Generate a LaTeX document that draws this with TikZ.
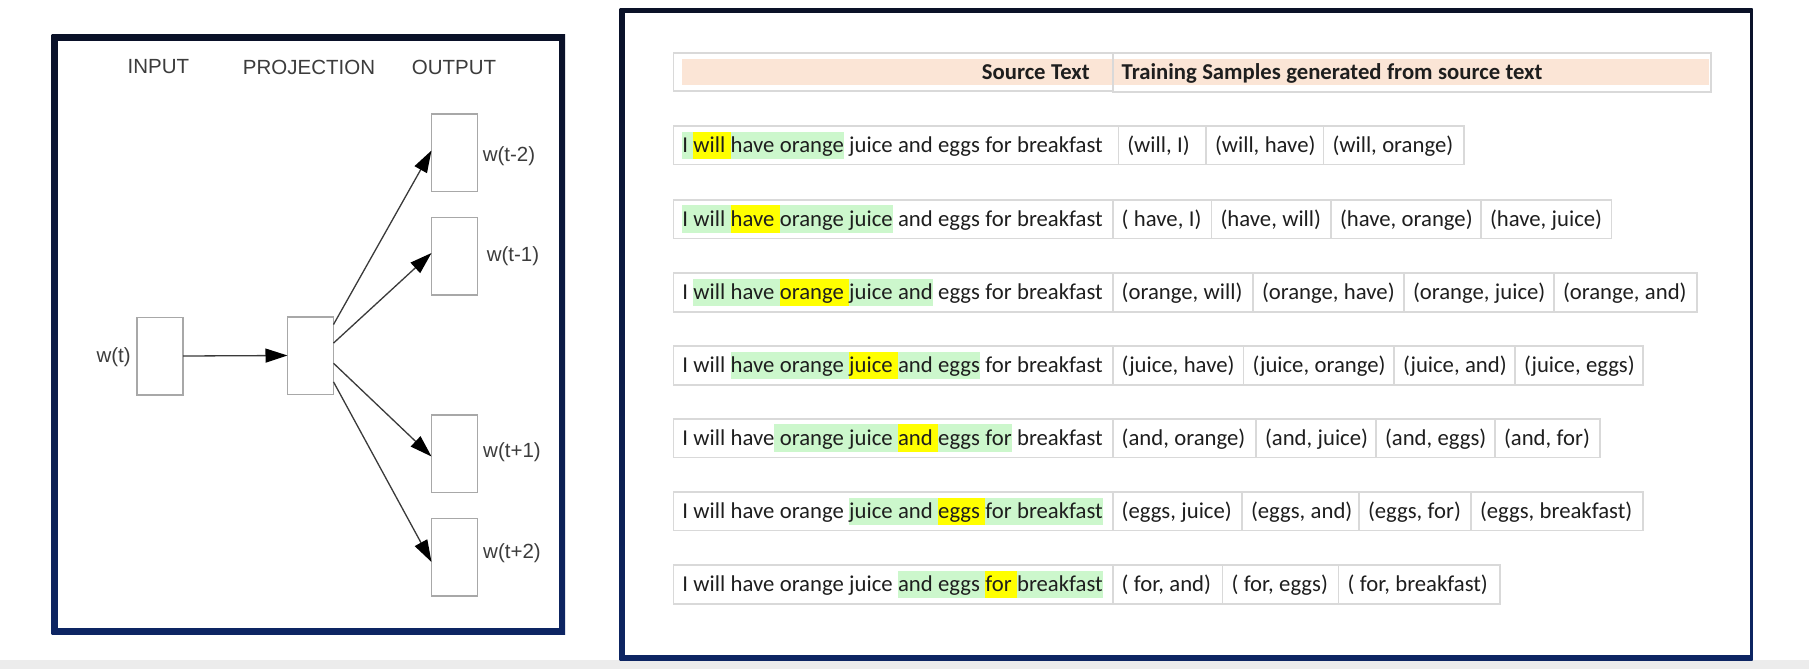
\documentclass[tikz,border=0pt]{standalone}
\usepackage{fontspec}
\setmainfont{Carlito}
\newfontfamily\arialfont{Liberation Sans}
\usetikzlibrary{arrows.meta,calc}

\definecolor{navytop}{HTML}{0A1128}
\definecolor{navybot}{HTML}{0D2563}
\definecolor{stripgray}{HTML}{ECECEC}
\definecolor{boxgray}{HTML}{A8A8A8}
\definecolor{linegray}{HTML}{3A3A3A}
\definecolor{labelgray}{HTML}{3C3C3C}
\definecolor{cellgray}{HTML}{D9D9D9}
\definecolor{peach}{HTML}{FBE5D6}
\definecolor{hlgreen}{HTML}{CCF7CC}
\definecolor{hlyellow}{HTML}{FFFF00}
\definecolor{inktext}{HTML}{1E1E1E}

% highlighted word runs
\newcommand\hlstrut{\rule[-6.8pt]{0pt}{27.5pt}}
\newcommand\hlg[1]{{\setlength{\fboxsep}{0pt}\colorbox{hlgreen}{\hlstrut#1}}}
\newcommand\hly[1]{{\setlength{\fboxsep}{0pt}\colorbox{hlyellow}{\hlstrut#1}}}

% one table cell: name, left x, right x, top y, content
\newcommand\rowcell[5]{%
  \pgfmathsetmacro\cellw{#3-#2-18}%
  \node[cell, text width=\cellw pt] (#1) at (#2,#4) {\mbox{\spaceskip=5.4pt\relax#5}};}
% source sentence cell
\newcommand\srccell[4]{\rowcell{#1}{673.3}{#2}{#3}{#4}}

\begin{document}
\begin{tikzpicture}[x=1pt,y=-1pt,
  nnbox/.style={draw=boxgray, line width=1.5pt, inner sep=0pt, outer sep=0pt,
                minimum width=46pt, minimum height=77.5pt},
  nnlabel/.style={font=\arialfont\fontsize{20.5pt}{24pt}\selectfont, text=labelgray, inner sep=0pt},
  link/.style={draw=linegray, line width=1.3pt, -{Triangle[length=22pt,width=14pt,color=black]}},
  cell/.style={draw=cellgray, line width=1.6pt, anchor=north west, outer sep=0pt,
               inner xsep=9pt, inner ysep=0pt, minimum height=38.5pt,
               text height=20.7pt, text depth=6.8pt, align=left, text=inktext,
               font=\fontsize{22.7pt}{27pt}\selectfont},
  hcell/.style={cell, minimum height=37.7pt, font=\bfseries\fontsize{22.7pt}{27pt}\selectfont}
]
\useasboundingbox (0,0) rectangle (1809,669);
\fill[white] (0,0) rectangle (1809,669);
\fill[stripgray] (0,660) rectangle (1809,669);

% ---------- skip-gram network ----------
\shade[top color=navytop, bottom color=navybot] (51.5,34.5) rectangle (565,634);
\fill[white] (58,41) rectangle (558.5,627.5);

\node[nnlabel] (hin)   at (158.4,67) {INPUT};
\node[nnlabel] (hproj) at (309,67)   {PROJECTION};
\node[nnlabel] (hout)  at (454,67)   {OUTPUT};

\node[nnbox] (in)   at (160,356)   {};
\node[nnbox] (proj) at (310.5,355.5) {};
\node[nnbox] (o1)   at (454.5,152.5) {};
\node[nnbox] (o2)   at (454.5,256)   {};
\node[nnbox] (o3)   at (454.5,453.5) {};
\node[nnbox] (o4)   at (454.5,557)   {};

\node[nnlabel] (lin) at (113.6,357) {w(t)};
\node[nnlabel] (l1)  at (509,156)   {w(t-2)};
\node[nnlabel] (l2)  at (513,256)   {w(t-1)};
\node[nnlabel] (l3)  at (512,452)   {w(t+1)};
\node[nnlabel] (l4)  at (512,553.5) {w(t+2)};

\draw[link] (in.east) -- (proj.west);
\draw[link] ($(proj.north east)!0.10!(proj.south east)$) -- ($(o1.west)+(0,-2)$);
\draw[link] ($(proj.north east)!0.34!(proj.south east)$) -- ($(o2.west)+(0,-3)$);
\draw[link] ($(proj.north east)!0.60!(proj.south east)$) -- ($(o3.west)+(0,3)$);
\draw[link] ($(proj.north east)!0.84!(proj.south east)$) -- ($(o4.west)+(0,5)$);

% ---------- training samples table ----------
\shade[top color=navytop, bottom color=navybot] (619.5,8.5) rectangle (1752.5,660);
\fill[white] (625,13.5) rectangle (1749.5,655);

% header
\fill[peach] (681.7,59) rectangle (1709.3,85);
\pgfmathsetmacro\cellw{1112.7-673.3-18}
\node[hcell, text width=\cellw pt, align=right] (hsrc) at (673.3,53.3)
  {\mbox{\spaceskip=5.4pt\relax Source Text\hspace{14pt}}};
\rowcell{htrain}{1112.7}{1711}{53.3}{\bfseries Training Samples generated from source text}

% row 1
\srccell{s1}{1118.3}{126}{\hlg{I \hly{will }have orange} juice and eggs for breakfast}
\rowcell{p11}{1118.3}{1206}{126}{(will, I)}
\rowcell{p12}{1206}{1323.5}{126}{(will, have)}
\rowcell{p13}{1323.5}{1464}{126}{(will, orange)}

% row 2
\srccell{s2}{1112.7}{199.8}{\hlg{I will \hly{have }orange juice} and eggs for breakfast}
\rowcell{p21}{1112.7}{1211.6}{199.8}{( have, I)}
\rowcell{p22}{1211.6}{1331}{199.8}{(have, will)}
\rowcell{p23}{1331}{1481}{199.8}{(have, orange)}
\rowcell{p24}{1481}{1611.6}{199.8}{(have, juice)}

% row 3
\srccell{s3}{1112.7}{273.2}{I \hlg{will have \hly{orange }juice and} eggs for breakfast}
\rowcell{p31}{1112.7}{1253}{273.2}{(orange, will)}
\rowcell{p32}{1253}{1404}{273.2}{(orange, have)}
\rowcell{p33}{1404}{1554}{273.2}{(orange, juice)}
\rowcell{p34}{1554}{1697}{273.2}{(orange, and)}

% row 4
\srccell{s4}{1112.7}{346.2}{I will \hlg{have orange \hly{juice }and eggs} for breakfast}
\rowcell{p41}{1112.7}{1243.5}{346.2}{(juice, have)}
\rowcell{p42}{1243.5}{1394}{346.2}{(juice, orange)}
\rowcell{p43}{1394}{1515}{346.2}{(juice, and)}
\rowcell{p44}{1515}{1642.7}{346.2}{(juice, eggs)}

% row 5
\srccell{s5}{1112.7}{418.8}{I will have\hlg{ orange juice \hly{and }eggs for} breakfast}
\rowcell{p51}{1112.7}{1256}{418.8}{(and, orange)}
\rowcell{p52}{1256}{1376}{418.8}{(and, juice)}
\rowcell{p53}{1376}{1495}{418.8}{(and, eggs)}
\rowcell{p54}{1495}{1600}{418.8}{(and, for)}

% row 6
\srccell{s6}{1112.7}{492}{I will have orange \hlg{juice and \hly{eggs }for breakfast}}
\rowcell{p61}{1112.7}{1242}{492}{(eggs, juice)}
\rowcell{p62}{1242}{1359}{492}{(eggs, and)}
\rowcell{p63}{1359}{1471}{492}{(eggs, for)}
\rowcell{p64}{1471}{1642.7}{492}{(eggs, breakfast)}

% row 7
\srccell{s7}{1112.7}{565.2}{I will have orange juice \hlg{and eggs \hly{for }breakfast}}
\rowcell{p71}{1112.7}{1222.5}{565.2}{( for, and)}
\rowcell{p72}{1222.5}{1338.6}{565.2}{( for, eggs)}
\rowcell{p73}{1338.6}{1500}{565.2}{( for, breakfast)}
\end{tikzpicture}
\end{document}
